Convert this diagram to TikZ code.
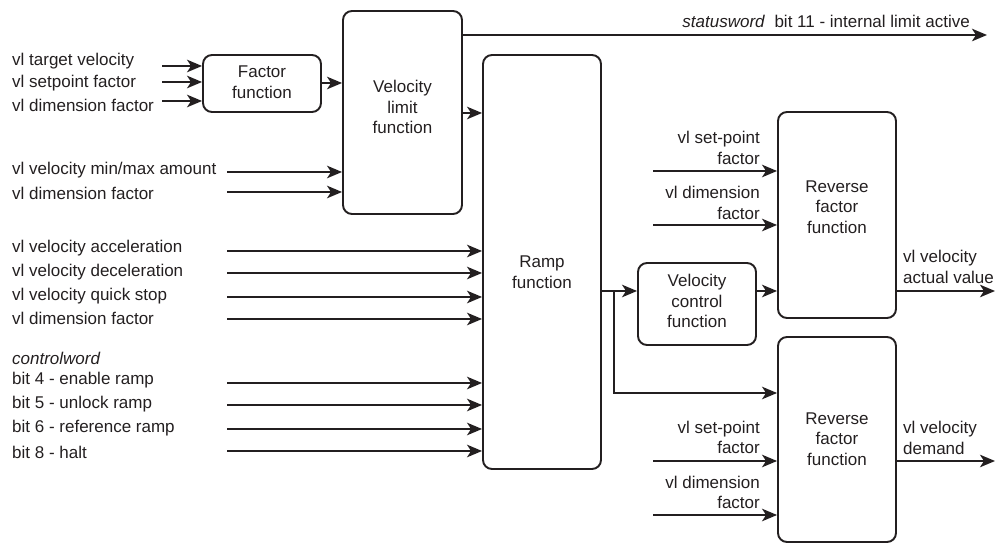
\documentclass[tikz,border=0pt]{standalone}
\usepackage{fontspec}
\setmainfont{Liberation Sans}
\usetikzlibrary{arrows.meta}
\definecolor{ink}{RGB}{35,31,32}
\tikzset{
  box/.style={draw=ink, line width=1.9pt, rounded corners=9pt, inner sep=0pt},
  btxt/.style={inner sep=0pt, align=center, text=ink, font=\fontsize{17}{20.5}\selectfont},
  lbl/.style={inner sep=0pt, anchor=west, text=ink, font=\fontsize{17}{20.5}\selectfont},
  rlbl/.style={inner sep=0pt, anchor=east, align=right, text=ink, font=\fontsize{17}{20.5}\selectfont},
  olbl/.style={inner sep=0pt, anchor=west, align=left, text=ink, font=\fontsize{17}{20.5}\selectfont},
  arr/.style={draw=ink, line width=1.9pt, -{Stealth[length=15pt,width=12.5pt,inset=4pt]}},
}
\begin{document}
\begin{tikzpicture}[x=1pt,y=-1pt]
\useasboundingbox (0,0) rectangle (997,545);

% boxes
\node[box, minimum width=118pt, minimum height=57pt] (fac) at (262,83.5) {};
\node[btxt] (fact) at (262,82) {Factor\\function};
\node[box, minimum width=119pt, minimum height=203pt] (vl) at (402.5,112.5) {};
\node[btxt] (vlt) at (402.5,107) {Velocity\\limit\\function};
\node[box, minimum width=118pt, minimum height=414pt] (ramp) at (542,262) {};
\node[btxt] (rampt) at (542,272) {Ramp\\function};
\node[box, minimum width=118pt, minimum height=206pt] (revt) at (837,215) {};
\node[btxt] (revtt) at (837,207) {Reverse\\factor\\function};
\node[box, minimum width=118pt, minimum height=205pt] (revb) at (837,439.5) {};
\node[btxt] (revbt) at (837,439) {Reverse\\factor\\function};
\node[box, minimum width=118pt, minimum height=82pt] (vcf) at (697,304) {};
\node[btxt] (vcft) at (697,301) {Velocity\\control\\function};

% inputs to factor function
\node[lbl] (l1) at (12,61) {vl target velocity};
\node[lbl] (l2) at (12,83) {vl setpoint factor};
\node[lbl] (l3) at (12,105) {vl dimension factor};
\coordinate (a1) at (162,66);
\coordinate (a2) at (162,82);
\coordinate (a3) at (162,101);
\draw[arr] (a1) -- (a1 -| fac.west);
\draw[arr] (a2) -- (a2 -| fac.west);
\draw[arr] (a3) -- (a3 -| fac.west);
\coordinate (f1) at (321,83);
\draw[arr] (f1 -| fac.east) -- (f1 -| vl.west);

% inputs to velocity limit
\node[lbl] (l4) at (12,170) {vl velocity min/max amount};
\node[lbl] (l5) at (12,193) {vl dimension factor};
\coordinate (a4) at (227,172);
\coordinate (a5) at (227,192);
\draw[arr] (a4) -- (a4 -| vl.west);
\draw[arr] (a5) -- (a5 -| vl.west);

% velocity limit to ramp
\coordinate (v1) at (462,113);
\draw[arr] (v1 -| vl.east) -- (v1 -| ramp.west);

% statusword
\coordinate (st) at (987,35);
\draw[arr] (st -| vl.east) -- (st);
\node[inner sep=0pt, anchor=base east, text=ink, font=\fontsize{17}{20.5}\selectfont] (stl) at (970,28) {\textit{statusword}\ \ bit 11 - internal limit active};

% ramp inputs
\node[lbl] (l6) at (12,248) {vl velocity acceleration};
\node[lbl] (l7) at (12,272) {vl velocity deceleration};
\node[lbl] (l8) at (12,296) {vl velocity quick stop};
\node[lbl] (l9) at (12,318) {vl dimension factor};
\node[lbl] (l10) at (12,358) {\textit{controlword}};
\node[lbl] (l11) at (12,380) {bit 4 - enable ramp};
\node[lbl] (l12) at (12,404) {bit 5 - unlock ramp};
\node[lbl] (l13) at (12,428) {bit 6 - reference ramp};
\node[lbl] (l14) at (12,452) {bit 8 - halt};
\foreach \n/\y in {r1/251, r2/273, r3/297, r4/319, r5/383, r6/405, r7/429, r8/451} {
  \coordinate (\n) at (227,\y);
  \draw[arr] (\n) -- (\n -| ramp.west);
}

% ramp output
\coordinate (ro) at (601,291);
\coordinate (br) at (614,291);
\coordinate (bd) at (614,393);
\draw[arr] (ro -| ramp.east) -- (ro -| vcf.west);
\draw[arr] (br) -- (bd) -- (bd -| revb.west);
\draw[arr] (ro -| vcf.east) -- (ro -| revt.west);

% reverse top inputs
\node[rlbl] (t1) at (760,148) {vl set-point\\factor};
\node[rlbl] (t2) at (760,203) {vl dimension\\factor};
\coordinate (ti1) at (653,171);
\coordinate (ti2) at (653,225);
\draw[arr] (ti1) -- (ti1 -| revt.west);
\draw[arr] (ti2) -- (ti2 -| revt.west);

% reverse top output
\coordinate (to) at (995,291);
\draw[arr] (to -| revt.east) -- (to);
\node[olbl] (tol) at (903,267) {vl velocity\\actual value};

% reverse bottom inputs
\node[rlbl] (b1) at (760,437.5) {vl set-point\\factor};
\node[rlbl] (b2) at (760,492.5) {vl dimension\\factor};
\coordinate (bi1) at (653,461);
\coordinate (bi2) at (653,515);
\draw[arr] (bi1) -- (bi1 -| revb.west);
\draw[arr] (bi2) -- (bi2 -| revb.west);

% reverse bottom output
\coordinate (bo) at (995,461);
\draw[arr] (bo -| revb.east) -- (bo);
\node[olbl] (bol) at (903,438) {vl velocity\\demand};
\end{tikzpicture}
\end{document}
